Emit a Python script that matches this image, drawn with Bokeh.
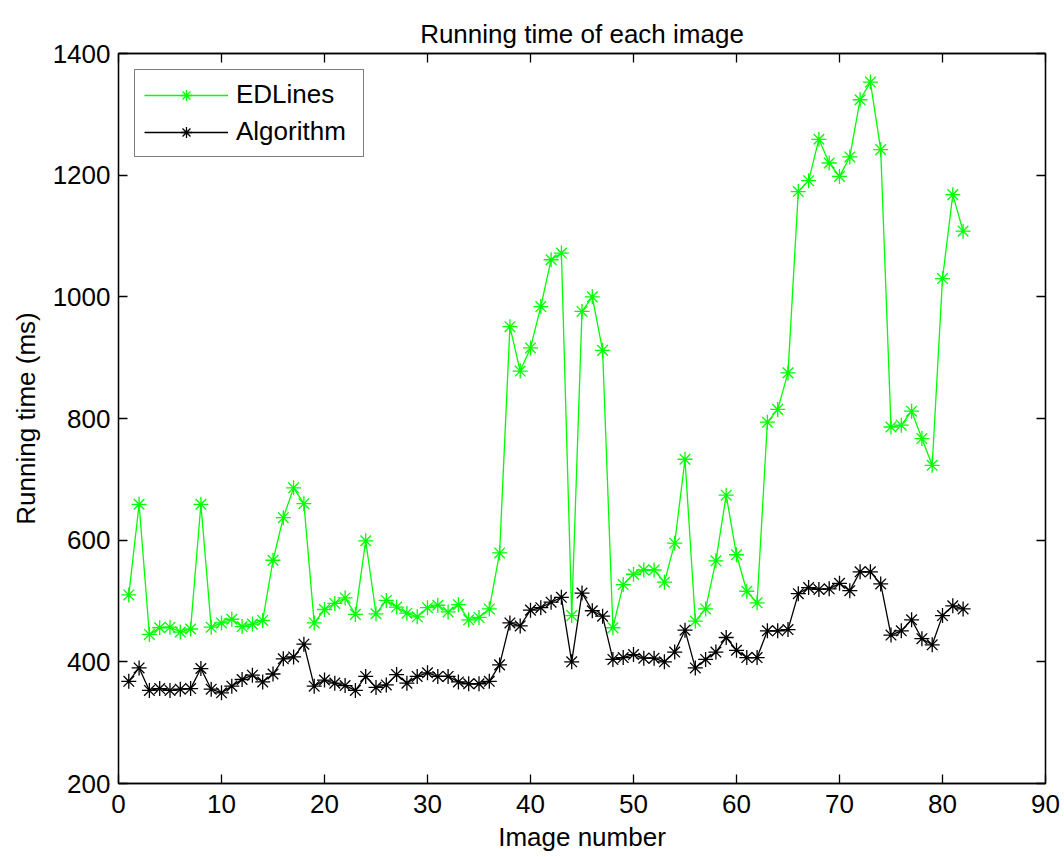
from bokeh.plotting import figure
from bokeh.models import LinearAxis, Range1d, FixedTicker, Legend, LegendItem, ColumnDataSource
from bokeh.embed import file_html
from bokeh.resources import INLINE

image_number = list(range(1, 83))

edlines_ms = [510, 659, 445, 456, 457, 449, 454, 659, 457, 464,
              470, 458, 462, 468, 567, 637, 686, 660, 464, 486,
              496, 505, 478, 599, 479, 501, 490, 480, 474, 489,
              493, 482, 494, 469, 473, 487, 579, 951, 878, 916,
              984, 1061, 1072, 476, 976, 1000, 912, 456, 527, 544,
              551, 551, 531, 595, 733, 467, 487, 566, 674, 576,
              516, 497, 794, 815, 875, 1173, 1191, 1259, 1220, 1198,
              1230, 1324, 1353, 1242, 786, 789, 812, 767, 723, 1030,
              1168, 1108]

algorithm_ms = [368, 390, 353, 356, 353, 355, 356, 389, 355, 349,
                360, 371, 378, 367, 380, 405, 408, 429, 360, 370,
                365, 361, 353, 376, 358, 362, 379, 365, 376, 382,
                376, 376, 367, 364, 364, 368, 395, 464, 459, 485,
                489, 498, 506, 400, 513, 484, 475, 404, 407, 412,
                406, 406, 400, 416, 452, 390, 404, 416, 440, 419,
                407, 407, 451, 451, 453, 512, 522, 519, 520, 529,
                517, 548, 548, 528, 444, 451, 469, 438, 428, 476,
                492, 487]

series_names = ["EDLines", "Algorithm"]
x_ticks = [0, 10, 20, 30, 40, 50, 60, 70, 80, 90]
y_ticks = [200, 400, 600, 800, 1000, 1200, 1400]

FONT = "Liberation Sans"
FS = "26px"

p = figure(frame_width=927, frame_height=730,
           min_border_left=118, min_border_right=19,
           min_border_top=53, min_border_bottom=74,
           x_range=Range1d(0, 90), y_range=Range1d(200, 1400),
           output_backend="svg", toolbar_location=None,
           title="Running time of each image")

p.title.text_font = FONT
p.title.text_font_size = FS
p.title.text_font_style = "normal"
p.title.align = "center"
p.title.text_color = "black"

p.xgrid.visible = False
p.ygrid.visible = False
p.outline_line_color = "black"
p.outline_line_width = 1.3
p.background_fill_color = "white"
p.border_fill_color = "white"

src = ColumnDataSource(dict(x=image_number, ed=edlines_ms, alg=algorithm_ms))

l1 = p.line("x", "ed", source=src, line_color="#00ff00", line_width=1.3)
m1 = p.scatter("x", "ed", source=src, marker="asterisk", size=15,
               line_color="#00ff00", line_width=1.3)
l2 = p.line("x", "alg", source=src, line_color="black", line_width=1.3)
m2 = p.scatter("x", "alg", source=src, marker="asterisk", size=15,
               line_color="black", line_width=1.3)

def style_axis(ax, ticks, labels=True):
    ax.ticker = FixedTicker(ticks=ticks)
    ax.major_tick_in = 9
    ax.major_tick_out = 0
    ax.minor_tick_line_color = None
    ax.axis_line_color = "black"
    ax.axis_line_width = 1.3
    ax.major_tick_line_color = "black"
    ax.major_tick_line_width = 1.3
    if labels:
        ax.major_label_text_font = FONT
        ax.major_label_text_font_size = FS
        ax.major_label_text_color = "black"
        ax.axis_label_text_font = FONT
        ax.axis_label_text_font_size = FS
        ax.axis_label_text_font_style = "normal"
        ax.axis_label_text_color = "black"
    else:
        ax.major_label_text_font_size = "0px"
        ax.major_label_standoff = 0

xa = p.xaxis[0]
ya = p.yaxis[0]
style_axis(xa, x_ticks)
style_axis(ya, y_ticks)
xa.axis_label = "Image number"
ya.axis_label = "Running time (ms)"
xa.major_label_standoff = 11
xa.axis_label_standoff = 6
ya.major_label_standoff = 8
ya.axis_label_standoff = 9

top_ax = LinearAxis()
right_ax = LinearAxis()
style_axis(top_ax, x_ticks, labels=False)
style_axis(right_ax, y_ticks, labels=False)
p.add_layout(top_ax, "above")
p.add_layout(right_ax, "right")

legend = Legend(items=[LegendItem(label=series_names[0], renderers=[l1, m1]),
                       LegendItem(label=series_names[1], renderers=[l2, m2])],
                location="top_left")
legend.margin = 16
legend.padding = 9
legend.spacing = 6
legend.glyph_width = 84
legend.glyph_height = 28
legend.label_height = 28
legend.label_width = 118
legend.label_standoff = 8
legend.label_text_font = FONT
legend.label_text_font_size = FS
legend.label_text_color = "black"
legend.border_line_color = "black"
legend.border_line_width = 1.3
legend.background_fill_alpha = 1
p.add_layout(legend, "center")

open("out.html", "w").write(file_html(p, INLINE))
